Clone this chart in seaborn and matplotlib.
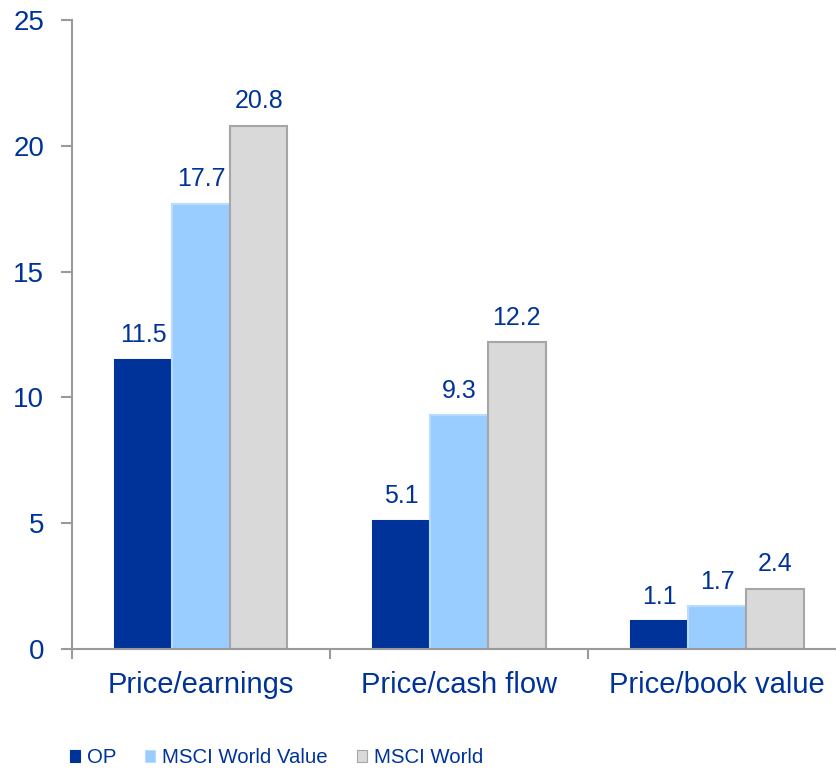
import pandas as pd
import seaborn as sns
import matplotlib.pyplot as plt
from matplotlib.patches import Patch

# Valuation ratios by group
metrics = ["Price/earnings", "Price/cash flow", "Price/book value"]
op = [11.5, 5.1, 1.1]
msci_world_value = [17.7, 9.3, 1.7]
msci_world = [20.8, 12.2, 2.4]
series_names = ["OP", "MSCI World Value", "MSCI World"]
y_ticks = [0, 5, 10, 15, 20, 25]

TEXT = "#003399"
AXIS = "#9A9A9A"
colors = ["#003399", "#99CCFF", "#D9D9D9"]
edges = ["#003399", "#B8DCFF", "#A6A6A6"]

df = pd.DataFrame({
    "metric": metrics * 3,
    "series": [s for s in series_names for _ in metrics],
    "value": op + msci_world_value + msci_world,
})

sns.set_style("white")
plt.rcParams["font.family"] = ["Liberation Sans", "DejaVu Sans"]

fig = plt.figure(figsize=(8.37, 7.69), dpi=100)
# axes runs a little past the right edge, like the original
ax = fig.add_axes([0.086, 0.156, 0.925, 0.818])

sns.barplot(data=df, x="metric", y="value", hue="series", order=metrics,
            hue_order=series_names, palette=colors, width=0.67, gap=0,
            saturation=1, ax=ax, legend=False)

for cont, ec in zip(ax.containers, edges):
    for bar in cont:
        bar.set_edgecolor(ec)
        bar.set_linewidth(1.5)
    ax.bar_label(cont, fmt="%.1f", padding=9, color=TEXT, fontsize=18)

ax.set_ylim(0, 25)
ax.set_xlim(-0.5, 2.5)
ax.set_yticks(y_ticks)
ax.set_yticklabels([str(t) for t in y_ticks], color=TEXT, fontsize=20)

# category labels on minor ticks, tick marks on group boundaries
ax.set_xticks([-0.5, 0.5, 1.5, 2.5])
ax.set_xticklabels([])
ax.set_xticks([0, 1, 2], minor=True)
ax.set_xticklabels(metrics, minor=True, color=TEXT, fontsize=21)
ax.tick_params(axis="x", which="minor", bottom=True, length=0, pad=16)
ax.tick_params(axis="x", which="major", bottom=True, length=7, width=1.5,
               color=AXIS, direction="out")
ax.tick_params(axis="y", left=True, length=8, width=1.5, color=AXIS,
               direction="out", pad=12)

ax.set_xlabel("")
ax.set_ylabel("")
for side in ["top", "right"]:
    ax.spines[side].set_visible(False)
for side in ["left", "bottom"]:
    ax.spines[side].set_color(AXIS)
    ax.spines[side].set_linewidth(1.5)

handles = [Patch(facecolor=c, edgecolor=e, linewidth=0.8) for c, e in zip(colors, edges)]
leg = fig.legend(handles, series_names, loc="lower left", bbox_to_anchor=(0.082, 0.001),
                 ncol=3, frameon=False, fontsize=14.7, handlelength=0.5, handleheight=0.5,
                 handletextpad=0.35, columnspacing=1.4, borderpad=0.05,
                 borderaxespad=0)
for t in leg.get_texts():
    t.set_color(TEXT)

fig.savefig("out.png", dpi=100)
